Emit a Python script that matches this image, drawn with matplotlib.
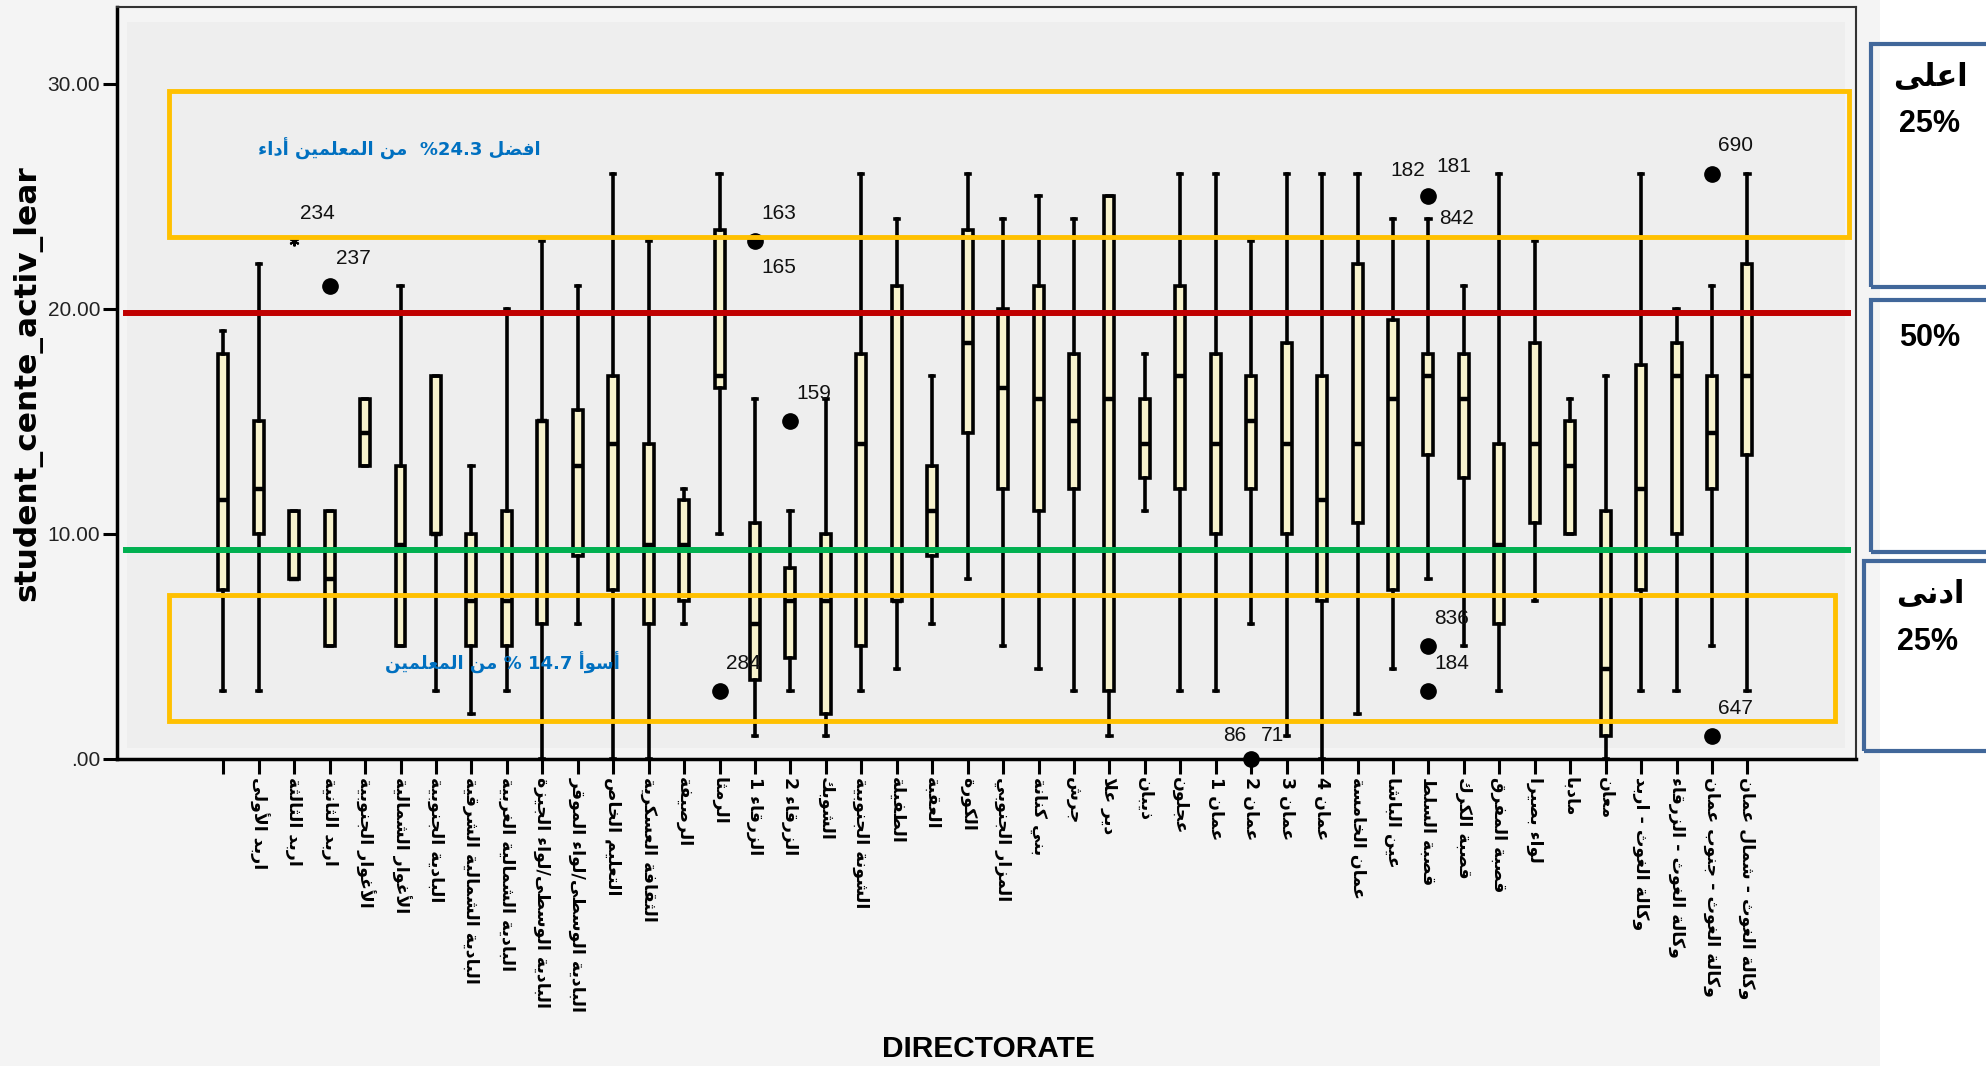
import re
import matplotlib
matplotlib.use('Agg')
import matplotlib.pyplot as plt
from matplotlib.patches import Rectangle

# values
directorates = ['', 'اربد الأولى', 'اربد الثالثة', 'اربد الثانية', 'الأغوار الجنوبية',
                'الأغوار الشمالية', 'البادية الجنوبية', 'البادية الشمالية الشرقية',
                'البادية الشمالية الغربية', 'البادية الوسطى/لواء الجيزة',
                'البادية الوسطى/لواء الموقر', 'التعليم الخاص', 'الثقافة العسكرية',
                'الرصيفة', 'الرمثا', 'الزرقاء 1', 'الزرقاء 2', 'الشوبك', 'الشونة الجنوبية',
                'الطفيلة', 'العقبة', 'الكورة', 'المزار الجنوبي', 'بني كنانة', 'جرش',
                'دير علا', 'ذيبان', 'عجلون', 'عمان 1', 'عمان 2', 'عمان 3', 'عمان 4',
                'عمان الخامسة', 'عين الباشا', 'قصبة السلط', 'قصبة الكرك', 'قصبة المفرق',
                'لواء بصيرا', 'مادبا', 'معان', 'وكالة الغوث - اربد', 'وكالة الغوث - الزرقاء',
                'وكالة الغوث - جنوب عمان', 'وكالة الغوث - شمال عمان']
whislo = [3, 3, 8, 5, 13, 5, 3, 2, 3, 0, 6, 0, 0, 6, 10, 1, 3, 1, 3, 4, 6, 8,
          5, 4, 3, 1, 11, 3, 3, 6, 1, 0, 2, 4, 8, 5, 3, 7, 10, 0, 3, 3, 5, 3]
q1 = [7.5, 10, 8, 5, 13, 5, 10, 5, 5, 6, 9, 7.5, 6, 7, 16.5, 3.5, 4.5, 2, 5, 7, 9, 14.5,
      12, 11, 12, 3, 12.5, 12, 10, 12, 10, 7, 10.5, 7.5, 13.5, 12.5, 6, 10.5, 10, 1, 7.5, 10, 12, 13.5]
med = [11.5, 12, 8, 8, 14.5, 9.5, 10, 7, 7, 15, 13, 14, 9.5, 9.5, 17, 6, 7, 7, 14, 7, 11, 18.5,
       16.5, 16, 15, 16, 14, 17, 14, 15, 14, 11.5, 14, 16, 17, 16, 9.5, 14, 13, 4, 12, 17, 14.5, 17]
q3 = [18, 15, 11, 11, 16, 13, 17, 10, 11, 15, 15.5, 17, 14, 11.5, 23.5, 10.5, 8.5, 10, 18, 21, 13, 23.5,
      20, 21, 18, 25, 16, 21, 18, 17, 18.5, 17, 22, 19.5, 18, 18, 14, 18.5, 15, 11, 17.5, 18.5, 17, 22]
whishi = [19, 22, 11, 11, 16, 21, 17, 13, 20, 23, 21, 26, 23, 12, 26, 16, 11, 16, 26, 24, 17, 26,
          24, 25, 24, 25, 18, 26, 26, 23, 26, 26, 26, 24, 24, 21, 26, 23, 16, 17, 26, 20, 21, 26]

# outliers: position, value, marker, case ids
out_pos = [2, 3, 14, 15, 16, 29, 34, 34, 34, 34, 42, 42]
out_val = [23, 21, 3, 23, 15, 0, 25, 24, 5, 3, 26, 1]
out_mark = ['*', 'o', 'o', 'o', 'o', 'o', 'o', '', 'o', 'o', 'o', 'o']
out_ids = [['234'], ['237'], ['284'], ['163', '165'], ['159'], ['86', '71'],
           ['182', '181'], ['842'], ['836'], ['184'], ['690'], ['647']]

best_band = (23.2, 29.7)
worst_band = (1.7, 7.3)
upper_level = 19.8
lower_level = 9.3


# no arabic shaping in matplotlib: use presentation forms and reverse by hand
AR_CHARS = 'ءآأؤإئابةتثجحخدذرزسشصضطظعغفقكلمنهوىي'
AR_NFORMS = [1, 2, 2, 2, 2, 4, 2, 4, 2, 4, 4, 4, 4, 4, 2, 2, 2, 2,
             4, 4, 4, 4, 4, 4, 4, 4, 4, 4, 4, 4, 4, 4, 4, 2, 2, 4]
FORMS = {}
code = 0xFE80
for ch, n in zip(AR_CHARS, AR_NFORMS):
    FORMS[ch] = [chr(code + k) for k in range(n)]
    code += n
LAM_ALEF = {'آ': 0xFEF5, 'أ': 0xFEF7, 'إ': 0xFEF9, 'ا': 0xFEFB}


def ar(text):
    out = []
    i = 0
    while i < len(text):
        c = text[i]
        if c not in FORMS:
            out.append(c)
            i += 1
            continue
        prev = text[i - 1] if i > 0 else ''
        jp = prev in FORMS and len(FORMS[prev]) == 4
        nxt = text[i + 1] if i + 1 < len(text) else ''
        if c == 'ل' and nxt in LAM_ALEF:
            out.append(chr(LAM_ALEF[nxt] + int(jp)))
            i += 2
            continue
        f = FORMS[c]
        jn = len(f) == 4 and nxt in FORMS and nxt != 'ء'
        if len(f) == 1:
            out.append(f[0])
        elif jp and jn:
            out.append(f[3])
        elif jp:
            out.append(f[1])
        elif jn:
            out.append(f[2])
        else:
            out.append(f[0])
        i += 1
    s = ''.join(out)[::-1]
    return re.sub(r'[0-9.]+', lambda m: m.group(0)[::-1], s)


fig = plt.figure(figsize=(19.86, 10.66), dpi=100, facecolor='#f4f4f4')
ax = fig.add_axes([0.0589, 0.288, 0.8756, 0.705])
ax.set_facecolor('#f4f4f4')
ax.add_patch(Rectangle((0.006, 0.014), 0.988, 0.966, transform=ax.transAxes,
                       facecolor='#eeeeee', edgecolor='none', zorder=0))

pos = list(range(len(directorates)))
stats = [dict(whislo=a, q1=b, med=c, q3=d, whishi=e, fliers=[])
         for a, b, c, d, e in zip(whislo, q1, med, q3, whishi)]
ax.bxp(stats, positions=pos, widths=0.28, capwidths=0.12, patch_artist=True, showfliers=False,
       boxprops=dict(facecolor='#f7f2cc', edgecolor='black', linewidth=2.6),
       whiskerprops=dict(color='black', linewidth=2.6),
       capprops=dict(color='black', linewidth=2.6),
       medianprops=dict(color='black', linewidth=3.2))

special = {'165': (6, -26, 'left'), '86': (-5, 23, 'right'), '71': (10, 23, 'left'),
           '182': (-3, 26, 'right'), '181': (8, 30, 'left'), '842': (11, 0, 'left')}
for p, v, m, ids in zip(out_pos, out_val, out_mark, out_ids):
    if m == 'o':
        ax.plot(p, v, 'o', color='black', ms=11, clip_on=False, zorder=5)
    elif m == '*':
        ax.plot(p, v, marker=(6, 2, 0), color='black', ms=7, mew=1.5, zorder=5)
    for t in ids:
        dx, dy, ha = special.get(t, (6, 28, 'left'))
        ax.annotate(t, (p, v), xytext=(dx, dy), textcoords='offset pixels', ha=ha, va='center',
                    fontsize=15, family='Liberation Sans', color='#111111', zorder=6)

# reference lines and bands drawn on top
ax.plot([-2.75, 45.85], [upper_level] * 2, color='#c00000', lw=4.3, zorder=7)
ax.plot([-2.75, 45.85], [lower_level] * 2, color='#00b050', lw=4.3, zorder=7)
ax.add_patch(Rectangle((-1.52, best_band[0]), 47.39, best_band[1] - best_band[0],
                       fill=False, edgecolor='#ffc000', lw=3.5, zorder=8))
ax.add_patch(Rectangle((-1.52, worst_band[0]), 46.98, worst_band[1] - worst_band[0],
                       fill=False, edgecolor='#ffc000', lw=3.5, zorder=8))
ax.text(4.97, 27.1, ar('افضل 24.3%  من المعلمين أداء'), color='#0070c0', fontsize=13,
        fontweight='bold', family='DejaVu Sans', ha='center', va='center', zorder=9)
ax.text(7.87, 4.25, ar('أسوأ 14.7 % من المعلمين'), color='#0070c0', fontsize=13,
        fontweight='bold', family='DejaVu Sans', ha='center', va='center', zorder=9)

ax.set_xlim(-3, 46.06)
ax.set_ylim(0, 33.4)
ax.set_xticks(pos)
ax.set_xticklabels([ar(d) for d in directorates], rotation=270, ha='center', va='top',
                   fontsize=12.5, fontweight='bold', family='DejaVu Sans')
ax.set_yticks([0, 10, 20, 30])
ax.set_yticklabels(['.00', '10.00', '20.00', '30.00'], fontsize=15, family='Liberation Sans',
                   color='#222222')
ax.tick_params(axis='x', length=11, width=2.2, pad=2)
ax.tick_params(axis='y', length=10, width=2.2, pad=2)
for side in ['left', 'bottom']:
    ax.spines[side].set_linewidth(2.5)
for side in ['top', 'right']:
    ax.spines[side].set_linewidth(1.5)
    ax.spines[side].set_color('#333333')

fig.text(0.0136, 0.641, 'student_cente_activ_lear', rotation=90, ha='center', va='center',
         fontsize=22.5, fontweight='bold', family='DejaVu Sans')
fig.text(0.4975, 0.016, 'DIRECTORATE', ha='center', va='center', fontsize=21.5,
         fontweight='bold', family='Liberation Sans')

# side legend boxes
fig.patches.append(Rectangle((0.9467, 0), 0.06, 1, transform=fig.transFigure,
                             facecolor='white', edgecolor='none', zorder=0))
for x0, y0, h in [(0.9421, 0.7308, 0.228), (0.9421, 0.4822, 0.2364), (0.9386, 0.2955, 0.1782)]:
    fig.patches.append(Rectangle((x0, y0), 0.08, h, transform=fig.transFigure,
                                 fill=False, edgecolor='#41679a', lw=3, zorder=2))
side_text = [(0.9718, 0.9278, ar('اعلى')), (0.9718, 0.8837, '25%'), (0.9718, 0.6829, '50%'),
             (0.9718, 0.4428, ar('ادنى')), (0.9703, 0.3977, '25%')]
for x, y, t in side_text:
    fig.text(x, y, t, ha='center', va='center', fontsize=22, fontweight='bold',
             family=['Liberation Sans', 'DejaVu Sans'])

fig.savefig('out.png', dpi=100, facecolor=fig.get_facecolor())
